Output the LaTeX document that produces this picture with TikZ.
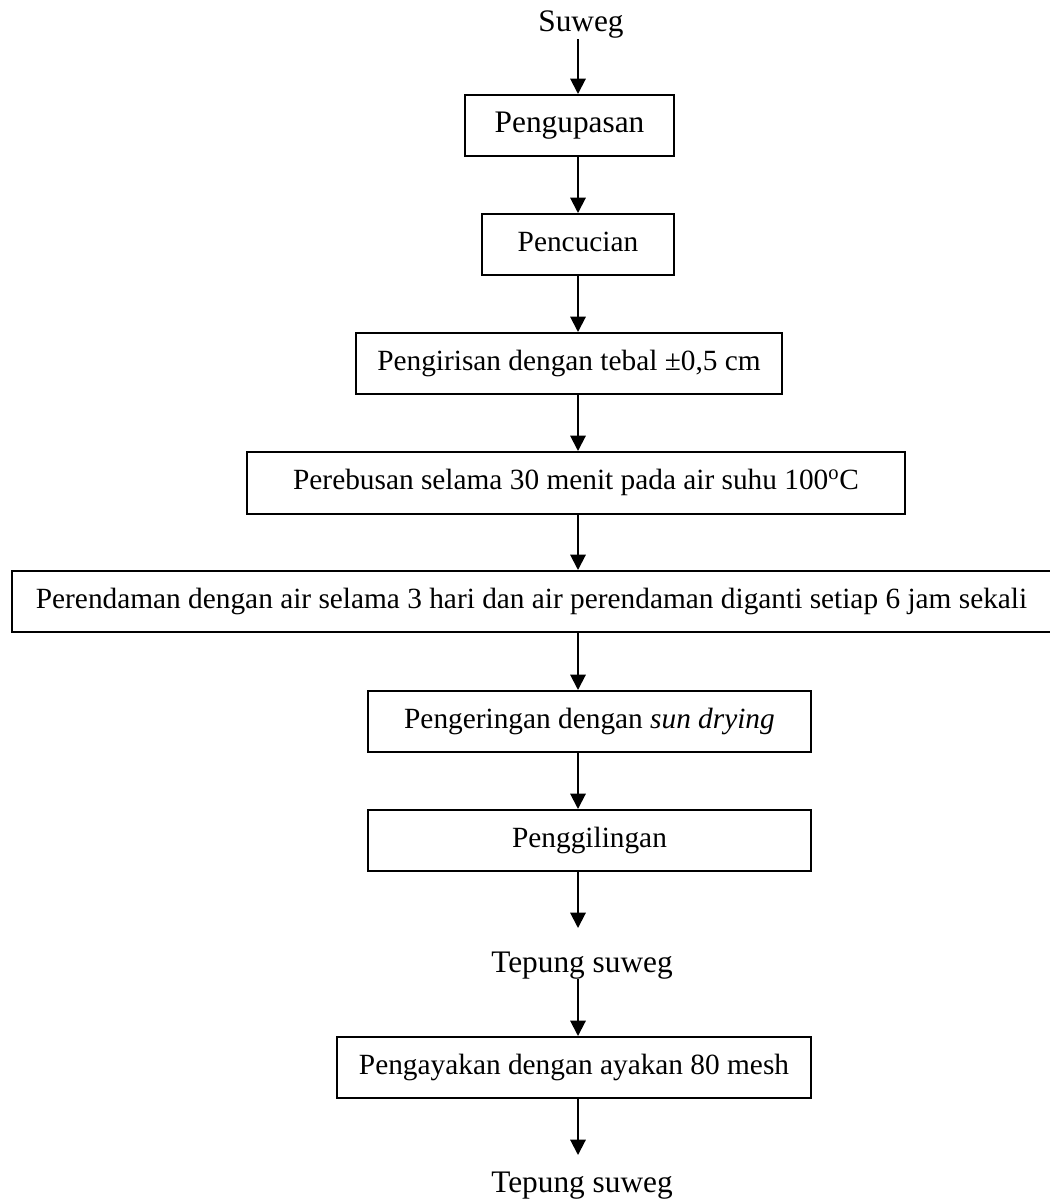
\documentclass[tikz,border=0pt]{standalone}
\usepackage{fontspec}
\setmainfont{Liberation Serif}
\usetikzlibrary{arrows.meta}
\begin{document}
\begin{tikzpicture}[x=0.75pt,y=-0.75pt,
  box/.style={draw,line width=1.5pt,inner sep=0pt,minimum height=45.75pt,
    font=\fontsize{22}{26}\selectfont,text height=15pt,text depth=4.8pt},
  lbl/.style={inner sep=0pt,anchor=base,font=\fontsize{23.5}{28}\selectfont},
  arr/.style={line width=1.5pt,-{Triangle[length=11.5pt,width=11.5pt]}}]
\useasboundingbox (0,0) rectangle (1049,1201);
\coordinate (ax) at (578,0);
\node[lbl] (s0) at (581,32) {Suweg};
\node[box,minimum width=156.75pt,font=\fontsize{23.5}{28}\selectfont,text height=16pt,text depth=5.1pt] (b1) at (569.5,125.5) {Pengupasan};
\node[box,minimum width=144pt] (b2) at (578,244.5) {Pencucian};
\node[box,minimum width=319.5pt] (b3) at (569,363.5) {Pengirisan dengan tebal ±0,5 cm};
\node[box,minimum width=493.5pt,minimum height=46.5pt] (b4) at (576,483) {Perebusan selama 30 menit pada air suhu 100\textsuperscript{o}C};
\node[box,minimum width=779.25pt] (b5) at (531.5,601.5) {Perendaman dengan air selama 3 hari dan air perendaman diganti setiap 6 jam sekali};
\node[box,minimum width=332.25pt] (b6) at (589.5,721.5) {Pengeringan dengan \textit{sun drying}};
\node[box,minimum width=332.25pt] (b7) at (589.5,840.5) {Penggilingan};
\node[lbl] (t1) at (582,972) {Tepung suweg};
\node[box,minimum width=355.5pt] (b8) at (574,1067.5) {Pengayakan dengan ayakan 80 mesh};
\node[lbl] (t2) at (582,1192) {Tepung suweg};
\coordinate (e7) at (578,928);
\coordinate (e8) at (578,1155);
\draw[arr] (s0.south -| ax) -- (b1.north -| ax);
\draw[arr] (b1.south -| ax) -- (b2.north -| ax);
\draw[arr] (b2.south -| ax) -- (b3.north -| ax);
\draw[arr] (b3.south -| ax) -- (b4.north -| ax);
\draw[arr] (b4.south -| ax) -- (b5.north -| ax);
\draw[arr] (b5.south -| ax) -- (b6.north -| ax);
\draw[arr] (b6.south -| ax) -- (b7.north -| ax);
\draw[arr] (b7.south -| ax) -- (e7);
\draw[arr] (t1.south -| ax) -- (b8.north -| ax);
\draw[arr] (b8.south -| ax) -- (e8);
\end{tikzpicture}
\end{document}
